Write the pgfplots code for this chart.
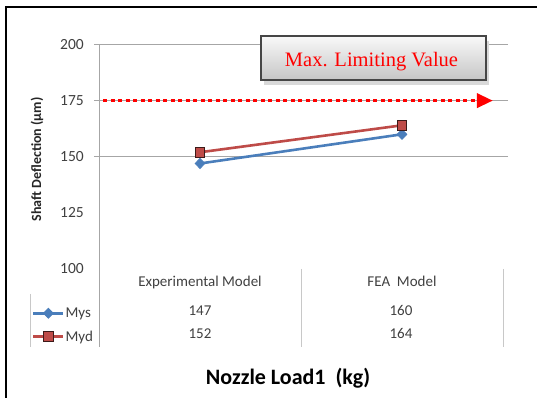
\documentclass[border=0pt]{standalone}
\usepackage{fontspec}
\setmainfont{Carlito}
\newfontfamily\boxserif{Liberation Serif}
\usepackage{pgfplots}
\pgfplotsset{compat=1.18}
\usetikzlibrary{arrows.meta}

\definecolor{mysblue}{HTML}{4A7EBB}
\definecolor{mydred}{HTML}{BE4B48}
\definecolor{mydedge}{HTML}{3C1A19}
\definecolor{gridgray}{HTML}{A6A6A6}
\definecolor{tblgray}{HTML}{C8C8C8}
\definecolor{txtgray}{HTML}{404040}

\begin{document}
\begin{tikzpicture}
\useasboundingbox (0,0) rectangle (537bp,398bp);
% outer frame (top and left edges)
\draw[line width=2bp] (6bp,0bp) -- (6bp,391bp) -- (537bp,391bp);

\begin{axis}[
  at={(99bp,129bp)}, anchor=south west,
  scale only axis, width=404bp, height=224.5bp,
  xmin=0, xmax=2, ymin=100, ymax=200,
  clip=false,
  axis line style={draw=none},
  /pgf/number format/assume math mode=true,
  xtick={0.5,1.5},
  xticklabels={Experimental Model, FEA~~Model},
  x tick label style={anchor=base, inner sep=0pt, yshift=-17bp,
    font=\fontsize{15bp}{17bp}\selectfont, text=txtgray},
  ytick={100,125,150,175,200},
  y tick label style={anchor=east, inner sep=0pt, xshift=-15bp,
    font=\fontsize{15.5bp}{17bp}\selectfont, text=txtgray},
  major tick length=0pt,
  extra y ticks={150,175,200},
  extra y tick labels={},
  extra y tick style={grid=major, major grid style={gridgray, line width=1bp},
    tick style={gridgray, line width=1bp}, major tick length=5bp, tick align=outside},
  every axis y label/.style={at={(axis description cs:-0.1535,0.488)}, rotate=90, anchor=center,
    font=\bfseries\fontsize{14bp}{16bp}\selectfont, text=black!85},
  ylabel={Shaft Deflection (µm)},
  every axis x label/.style={at={(axis description cs:0.468,-0.4855)}, anchor=center,
    font=\bfseries\fontsize{22bp}{24bp}\selectfont},
  xlabel={Nozzle Load1~~(kg)},
  legend image code/.code={\draw[mark repeat=2,mark phase=2,#1]
    plot coordinates {(0bp,0bp) (15bp,0bp) (30bp,0bp)};},
  legend cell align=left,
  legend style={at={(axis description cs:-0.0149,-0.175)}, anchor=north east,
    draw=none, fill=none, inner sep=0pt, outer sep=0pt,
    row sep=13.5bp, column sep=1bp,
    font=\fontsize{15bp}{17bp}\selectfont, text=txtgray,
    nodes={inner sep=0pt, text height=9bp, text depth=0bp}},
]
% limiting value line
\addplot[red, line width=3.5bp, dash pattern=on 4bp off 3.5bp,
  -{Triangle[length=16bp, width=14bp]}, forget plot]
  coordinates {(0.02,175) (1.95,175)};

\addplot[mysblue, line width=2.6bp, mark=diamond*,
  mark options={solid, xscale=1.3, fill=mysblue, draw=mysblue, line width=0.8bp}, mark size=5bp]
  coordinates {(0.5,147) (1.5,160)};
\addlegendentry{Mys}
\addplot[mydred, line width=2.6bp, mark=square*,
  mark options={solid, fill=mydred, draw=mydedge, line width=0.9bp}, mark size=4.8bp]
  coordinates {(0.5,152) (1.5,164)};
\addlegendentry{Myd}
\end{axis}

% left axis line, continued down through the data table
\draw[gridgray, line width=1bp] (99bp,353.5bp) -- (99bp,51bp);
% data table rules
\draw[tblgray, line width=1bp] (301bp,129bp) -- (301bp,51bp);
\draw[tblgray, line width=1bp] (503bp,129bp) -- (503bp,51bp);
\draw[tblgray, line width=1bp] (30bp,104bp) -- (30bp,51bp);

% data table values
\begin{scope}[every node/.style={anchor=base, inner sep=0pt, text=txtgray,
    font=\fontsize{15bp}{17bp}\selectfont}]
\node at (200bp,82bp) {147};
\node at (401bp,82bp) {160};
\node at (200bp,59.5bp) {152};
\node at (401bp,59.5bp) {164};
\end{scope}

% callout box
\fill[gray!30] (264bp,313bp) rectangle (489bp,357bp);
\shade[top color=gray!5, bottom color=gray!45] (261bp,318bp) rectangle (486bp,362bp);
\draw[line width=2bp, gray!55!black] (261bp,318bp) rectangle (486bp,362bp);
\node[anchor=base, text=red, inner sep=0pt,
  font=\boxserif\fontsize{20.5bp}{22bp}\selectfont] at (371.5bp,331bp) {Max. Limiting Value};
\end{tikzpicture}
\end{document}
